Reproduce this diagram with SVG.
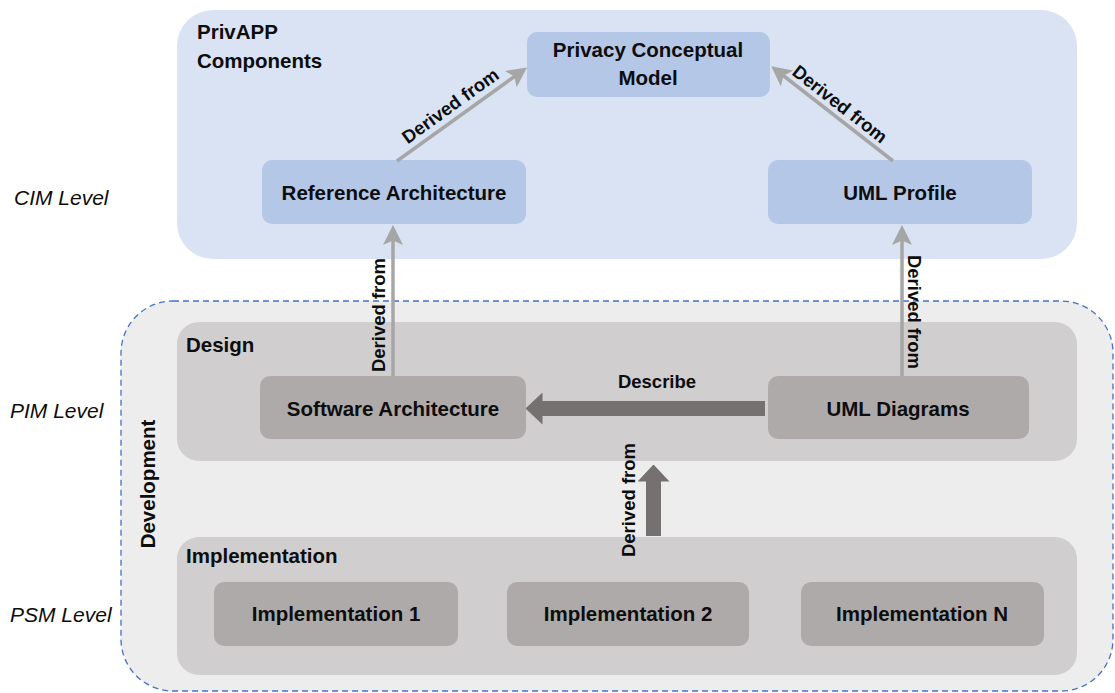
<svg xmlns="http://www.w3.org/2000/svg" width="1115" height="693" viewBox="0 0 1115 693">
  <style>
    text { font-family: "Liberation Sans", Arial, sans-serif; fill: #0d0d0d; }
    .b { font-weight: bold; font-size: 20.5px; }
    .lbl { font-weight: bold; font-size: 18.5px; }
    .lvl { font-style: italic; font-size: 21px; }
    .zone-blue { fill: #dae3f3; }
    .zone-dev { fill: #ededed; stroke: #4472c4; stroke-width: 1.3; stroke-dasharray: 6 4; }
    .zone-gray { fill: #d0cece; }
    .node-blue { fill: #b4c7e7; }
    .node-gray { fill: #aeaaaa; }
    .thin { stroke: #a6a6a6; stroke-width: 3.5; fill: none; marker-end: url(#thinHead); }
    .thick { stroke: #767171; stroke-width: 15; fill: none; marker-end: url(#thickHead); }
  </style>
  <defs>
    <marker id="thinHead" markerUnits="userSpaceOnUse" markerWidth="20" markerHeight="20" viewBox="0 0 18 18" refX="8" refY="9" orient="auto">
      <path d="M0,0 L18,9 L0,18 L4,9 z" fill="#a6a6a6"/>
    </marker>
    <marker id="thickHead" markerUnits="userSpaceOnUse" markerWidth="17" markerHeight="32" viewBox="0 0 17 32" refX="0.5" refY="16" orient="auto">
      <path d="M0,0 L17,16 L0,32 z" fill="#767171"/>
    </marker>
  </defs>

  <!-- level labels -->
  <g id="levels">
    <text class="lvl" x="14" y="205">CIM Level</text>
    <text class="lvl" x="10" y="418">PIM Level</text>
    <text class="lvl" x="10" y="622">PSM Level</text>
  </g>

  <!-- CIM zone: PrivAPP components -->
  <g id="privapp">
    <rect class="zone-blue" x="177" y="10" width="900" height="249" rx="36"/>
    <text class="b" x="197" y="39">PrivAPP</text>
    <text class="b" x="197" y="68">Components</text>
  </g>

  <!-- development zone -->
  <g id="development">
    <rect class="zone-dev" x="121" y="301" width="992" height="390" rx="52"/>
    <text class="b" transform="translate(155,484) rotate(-90)" text-anchor="middle">Development</text>
  </g>

  <g id="design">
    <rect class="zone-gray" x="177" y="322" width="900" height="139" rx="22"/>
    <text class="b" x="186" y="352">Design</text>
  </g>

  <g id="implementation">
    <rect class="zone-gray" x="177" y="537" width="900" height="138" rx="22"/>
    <text class="b" x="186" y="563">Implementation</text>
  </g>

  <!-- CIM nodes -->
  <g id="privacy-conceptual-model">
    <rect class="node-blue" x="527" y="32" width="243" height="65" rx="10"/>
    <text class="b" x="648" y="57" text-anchor="middle">Privacy Conceptual</text>
    <text class="b" x="648" y="85" text-anchor="middle">Model</text>
  </g>
  <g id="reference-architecture">
    <rect class="node-blue" x="262" y="160" width="264" height="64" rx="10"/>
    <text class="b" x="394" y="200" text-anchor="middle">Reference Architecture</text>
  </g>
  <g id="uml-profile">
    <rect class="node-blue" x="768" y="160" width="264" height="64" rx="10"/>
    <text class="b" x="900" y="200" text-anchor="middle">UML Profile</text>
  </g>

  <!-- PIM nodes -->
  <g id="software-architecture">
    <rect class="node-gray" x="260" y="376" width="266" height="63" rx="10"/>
    <text class="b" x="393" y="416" text-anchor="middle">Software Architecture</text>
  </g>
  <g id="uml-diagrams">
    <rect class="node-gray" x="768" y="376" width="261" height="63" rx="10"/>
    <text class="b" x="898" y="416" text-anchor="middle">UML Diagrams</text>
  </g>

  <!-- PSM nodes -->
  <g id="implementation-1">
    <rect class="node-gray" x="214" y="582" width="244" height="64" rx="10"/>
    <text class="b" x="336" y="621" text-anchor="middle">Implementation 1</text>
  </g>
  <g id="implementation-2">
    <rect class="node-gray" x="507" y="582" width="242" height="64" rx="10"/>
    <text class="b" x="628" y="621" text-anchor="middle">Implementation 2</text>
  </g>
  <g id="implementation-n">
    <rect class="node-gray" x="801" y="582" width="243" height="64" rx="10"/>
    <text class="b" x="922" y="621" text-anchor="middle">Implementation N</text>
  </g>

  <!-- connectors -->
  <g id="connectors">
    <line class="thin" x1="397" y1="161" x2="518" y2="74"/>
    <text class="lbl" transform="translate(454,111) rotate(-35.8)" text-anchor="middle">Derived from</text>

    <line class="thin" x1="893" y1="161" x2="780" y2="73"/>
    <text class="lbl" transform="translate(836,109) rotate(37.8)" text-anchor="middle">Derived from</text>

    <line class="thin" x1="393" y1="376" x2="393" y2="236"/>
    <text class="lbl" transform="translate(385,315) rotate(-90)" text-anchor="middle">Derived from</text>

    <line class="thin" x1="902" y1="376" x2="902" y2="236"/>
    <text class="lbl" transform="translate(908,312) rotate(90)" text-anchor="middle">Derived from</text>

    <line class="thick" x1="765" y1="408.5" x2="542" y2="408.5"/>
    <text class="lbl" x="657" y="388" text-anchor="middle">Describe</text>

    <line class="thick" x1="653.5" y1="536" x2="653.5" y2="481"/>
    <text class="lbl" transform="translate(635,500) rotate(-90)" text-anchor="middle">Derived from</text>
  </g>
</svg>
